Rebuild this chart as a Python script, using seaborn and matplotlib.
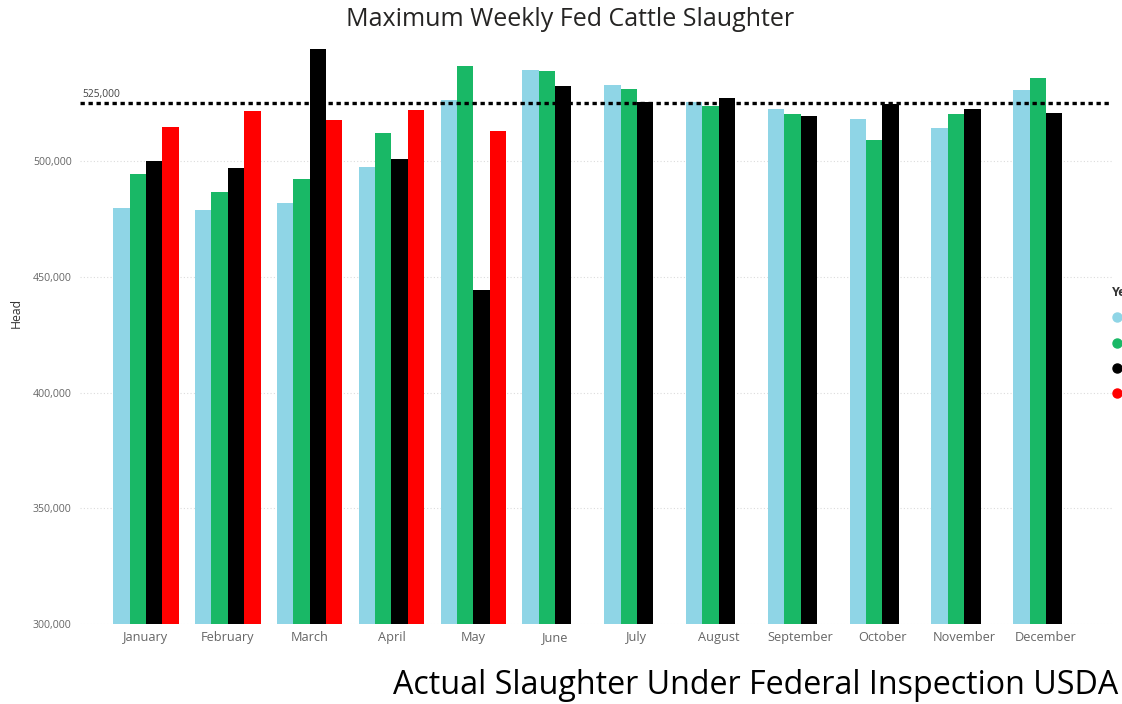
import numpy as np
import pandas as pd
import matplotlib
matplotlib.use("Agg")
import matplotlib.pyplot as plt
from matplotlib.lines import Line2D
import seaborn as sns

months = ["January", "February", "March", "April", "May", "June", "July",
          "August", "September", "October", "November", "December"]
years = ["2018", "2019", "2020", "2021"]
nan = np.nan
y2018 = [479800, 479000, 481900, 497500, 526600, 539300, 533100, 525600, 522600, 518300, 514400, 530700]
y2019 = [494700, 486700, 492200, 512200, 541200, 538900, 531400, 523800, 520300, 509200, 520300, 535900]
y2020 = [500100, 497300, 548700, 501100, 444300, 532700, 525500, 527200, 519700, 524900, 522600, 520900]
y2021 = [514700, 521600, 517700, 522300, 513000, nan, nan, nan, nan, nan, nan, nan]
yticks = [300000, 350000, 400000, 450000, 500000]
ref_value = 525000
colors = ["#8FD5E6", "#19B866", "#000000", "#FF0000"]

rows = []
for yr, vals in zip(years, [y2018, y2019, y2020, y2021]):
    for m, v in zip(months, vals):
        rows.append({"Month": m, "Year": yr, "Head": v})
df = pd.DataFrame(rows)

sns.set_theme(style="white")
plt.rcParams["font.family"] = ["Open Sans", "DejaVu Sans"]

W, H = 1122, 704
fig = plt.figure(figsize=(W / 100, H / 100), dpi=100)
left, right, top, bottom = 80, 1112, 34, 624
ax = fig.add_axes([left / W, 1 - bottom / H, (right - left) / W, (bottom - top) / H])

sns.barplot(data=df, x="Month", y="Head", hue="Year", order=months, hue_order=years,
            palette=colors, saturation=1, width=0.8, dodge=True, errorbar=None,
            legend=False, ax=ax, linewidth=0)

# x limits so that categories sit at the right pixel positions
px_per_cat = 81.8
ax.set_xlim(-(146 - left) / px_per_cat, 11 + (right - 1046) / px_per_cat)
ax.set_ylim(300000, 555000)
ax.set_yticks(yticks)
ax.set_yticklabels([f"{v:,}" for v in yticks], fontsize=7.6, color="#666666")
ax.tick_params(axis="x", labelsize=9.2, colors="#666666", length=0, pad=5)
ax.tick_params(axis="y", length=0, pad=6)
ax.set_xlabel("")
ax.set_ylabel("Head", fontsize=8.8, color="#333333")
ax.yaxis.set_label_coords((23 - left) / (right - left), (bottom - 313) / (bottom - top))
for s in ax.spines.values():
    s.set_visible(False)
ax.grid(axis="y", linestyle=(0, (1, 2)), color="#dcdcdc", linewidth=0.8)
ax.set_axisbelow(True)

ax.axhline(ref_value, color="black", linestyle=(0, (1.3, 1.1)), linewidth=2.4, zorder=5)
ax.text(0.002, ref_value + 1600, f"{ref_value:,}", transform=ax.get_yaxis_transform(),
        fontsize=7.4, color="#444444", ha="left", va="bottom")

fig.text(570 / W, 1 - 19 / H, "Maximum Weekly Fed Cattle Slaughter", fontsize=18,
         color="#252423", ha="center", va="center", family=["Open Sans", "DejaVu Sans"])
fig.text(1118 / W, 1 - 686 / H, "Actual Slaughter Under Federal Inspection USDA",
         fontsize=23.2, color="black", ha="right", va="center",
         family=["Open Sans", "DejaVu Sans"])

handles = [Line2D([], [], marker="o", linestyle="", color=c, markersize=6.5) for c in colors]
leg = fig.legend(handles, years, title="Year", loc="upper left",
                 bbox_to_anchor=(1112 / W, 1 - 286 / H), frameon=False,
                 fontsize=8.5, title_fontsize=9, handletextpad=0.4, handlelength=0.8,
                 borderpad=0, borderaxespad=0, labelspacing=1.05, alignment="left")
leg.get_title().set_color("#333333")
leg.get_title().set_fontweight("bold")

fig.savefig("out.png", dpi=100, facecolor="white")
